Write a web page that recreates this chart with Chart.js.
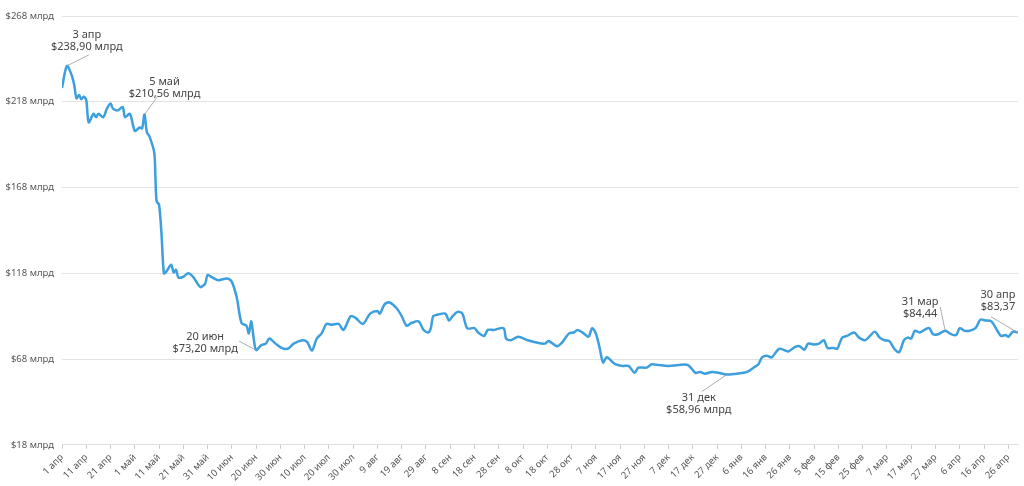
<!DOCTYPE html>
<html>
<head>
<meta charset="utf-8">
<script src="https://cdn.jsdelivr.net/npm/chart.js@4"></script>
<style>
  html, body { margin: 0; padding: 0; background: #fff; }
  #wrap { width: 1024px; height: 486px; }
</style>
</head>
<body>
<div id="wrap"><canvas id="chart"></canvas></div>
<script>
// day index counted from 1 апр 2022
const days = [0, 2, 4, 5, 6, 7, 8, 9, 10, 11, 13, 14, 15, 17, 18.5, 20, 21, 23, 25, 26, 28, 30, 32, 33, 34, 35, 36, 38, 38.5, 39, 40, 41, 42, 43, 45, 46, 47, 48, 50, 52, 54, 57, 59, 60, 62, 64.5, 68, 70, 72, 74, 76, 77, 78, 79, 80, 82, 84, 85.5, 88, 90.5, 93, 95.5, 99, 101, 103, 105, 107, 109, 111, 114, 116, 119, 121, 124, 127, 130, 131, 133, 135, 138, 140, 142, 144, 147, 149, 151, 152, 153, 155, 158, 159.5, 161, 163, 165, 167, 170, 171.5, 174, 175.5, 178, 182, 183, 185, 188, 192, 196, 199, 200.5, 204, 206, 209, 211, 212.5, 215, 217, 218.5, 220, 221.5, 223, 224.5, 228, 231, 233.5, 236, 237.5, 241, 243, 246, 250, 254, 258, 261, 263, 265, 268, 270.5, 274, 278, 281, 283, 285, 287, 288.5, 290.5, 292.5, 295.5, 298, 299.5, 302, 304, 306, 307.5, 310, 312, 314, 315.5, 318, 319.5, 321.5, 323.5, 326.5, 328.5, 331, 333, 335, 337, 339, 341, 343, 345, 347, 348.5, 350, 351.5, 353.5, 356, 357.5, 359, 361, 364, 366.5, 368.5, 370, 372, 374, 376.5, 378.5, 380.5, 383, 385.5, 387, 389, 390, 392, 394];
const caps = [226, 238.9, 233.5, 228, 220, 222, 219.5, 221, 219, 206, 211, 209, 211, 209, 214, 217, 214, 213, 215, 209, 211, 201, 203, 202.5, 210.56, 200, 198, 188.5, 174, 160, 158, 141, 118, 119, 123, 118.5, 120, 115.5, 116, 118, 116, 110, 112, 117, 115.5, 114, 115, 113, 104, 89, 87.5, 83, 90, 80, 73.2, 76, 77, 80, 77, 74.5, 74, 77, 79, 78, 73, 80, 83, 88.5, 88, 88.5, 85, 93, 92, 88.5, 94.5, 96, 94.5, 100, 101, 97.5, 93, 87.5, 89, 90, 85, 83.5, 86, 93, 94, 94.5, 90.5, 93, 95.5, 94.5, 86, 86, 83.5, 81.5, 85, 85, 86, 80, 79, 81, 79, 77.5, 77, 78.5, 75.5, 77.5, 83, 83.5, 85, 83, 81, 86, 83, 75, 66, 69, 65, 64, 64, 60, 63, 63, 65, 64.5, 64, 64.5, 64.5, 60, 60.5, 59.5, 60.5, 60, 58.96, 59.5, 60, 61, 63, 65, 69, 70, 69, 74, 73, 72.5, 75, 75.5, 73.5, 77, 76.5, 77, 79, 74.5, 74.5, 74, 80.5, 81.5, 83.5, 80.5, 79, 81.5, 84, 80.5, 79, 78.5, 74, 72, 79, 80.5, 80, 84.5, 83.5, 85.5, 86, 82.5, 82.5, 84.44, 82.5, 82, 86, 84.5, 84.5, 86, 91, 90.5, 90, 84.5, 81.5, 82, 81, 84, 83.37];
const yTicks = [18, 68, 118, 168, 218, 268];
const xTicks = [0, 10, 20, 30, 40, 50, 60, 70, 80, 90, 100, 110, 120, 130, 140, 150, 160, 170, 180, 190, 200, 210, 220, 230, 240, 250, 260, 270, 280, 290, 300, 310, 320, 330, 340, 350, 360, 370, 380, 390];
const months = ["янв", "фев", "мар", "апр", "май", "июн", "июл", "авг", "сен", "окт", "ноя", "дек"];

// callouts: day, value, text lines, label offset and leader end (px from the point)
const notes = [
  { day: 2, value: 238.9, lines: ["3 апр", "$238,90 млрд"], dx: 20, dy: -31, lx: 22, ly: -11 },
  { day: 34, value: 210.56, lines: ["5 май", "$210,56 млрд"], dx: 20, dy: -33, lx: 13, ly: -18 },
  { day: 80, value: 73.2, lines: ["20 июн", "$73,20 млрд"], dx: -51, dy: -13, lx: -17, ly: -9 },
  { day: 274, value: 58.96, lines: ["31 дек", "$58,96 млрд"], dx: -28, dy: 23, lx: -25, ly: 17 },
  { day: 364, value: 84.44, lines: ["31 мар", "$84,44"], dx: -25, dy: -29, lx: -5, ly: -24 },
  { day: 394, value: 83.37, lines: ["30 апр", "$83,37"], dx: -20, dy: -38, lx: -27, ly: -16 }
];

function dayLabel(d) {
  const dt = new Date(2022, 3, 1 + d);
  return dt.getDate() + " " + months[dt.getMonth()];
}

const notePlugin = {
  id: "notes",
  afterDatasetsDraw(chart) {
    const ctx = chart.ctx, xs = chart.scales.x, ys = chart.scales.y;
    ctx.save();
    ctx.font = "11px 'Noto Sans', sans-serif";
    ctx.textAlign = "center";
    ctx.textBaseline = "middle";
    notes.forEach(n => {
      const px = xs.getPixelForValue(n.day), py = ys.getPixelForValue(n.value);
      ctx.strokeStyle = "#999";
      ctx.lineWidth = 0.8;
      ctx.beginPath();
      ctx.moveTo(px, py);
      ctx.lineTo(px + n.lx, py + n.ly);
      ctx.stroke();
      ctx.fillStyle = "#444";
      ctx.fillText(n.lines[0], px + n.dx, py + n.dy);
      ctx.fillText(n.lines[1], px + n.dx, py + n.dy + 12);
    });
    ctx.restore();
  }
};

new Chart(document.getElementById("chart"), {
  type: "line",
  data: {
    datasets: [{
      data: days.map((d, i) => ({ x: d, y: caps[i] })),
      borderColor: "#3d9fdd",
      borderWidth: 2.5,
      pointRadius: 0,
      tension: 0.3,
      fill: false
    }]
  },
  options: {
    responsive: true,
    maintainAspectRatio: false,
    animation: false,
    layout: { padding: { top: 16, right: 6, left: 0, bottom: 0 } },
    plugins: { legend: { display: false }, tooltip: { enabled: false } },
    scales: {
      x: {
        type: "linear",
        min: 0,
        max: 394,
        afterBuildTicks: s => { s.ticks = xTicks.map(v => ({ value: v })); },
        ticks: {
          autoSkip: false,
          maxRotation: 45,
          minRotation: 45,
          color: "#555",
          font: { size: 9.5, family: "'Noto Sans', sans-serif" },
          callback: v => dayLabel(v)
        },
        grid: { drawOnChartArea: false, tickLength: 4, color: "#ccc" },
        border: { color: "#ddd" }
      },
      y: {
        min: 18,
        max: 268,
        afterBuildTicks: s => { s.ticks = yTicks.map(v => ({ value: v })); },
        afterFit: s => { s.width = 62; },
        ticks: {
          color: "#555",
          padding: 8,
          font: { size: 9.5, family: "'Noto Sans', sans-serif" },
          callback: v => "$" + v + " млрд"
        },
        grid: { color: "#e3e3e3", drawTicks: false },
        border: { display: false }
      }
    }
  },
  plugins: [notePlugin]
});
</script>
</body>
</html>
